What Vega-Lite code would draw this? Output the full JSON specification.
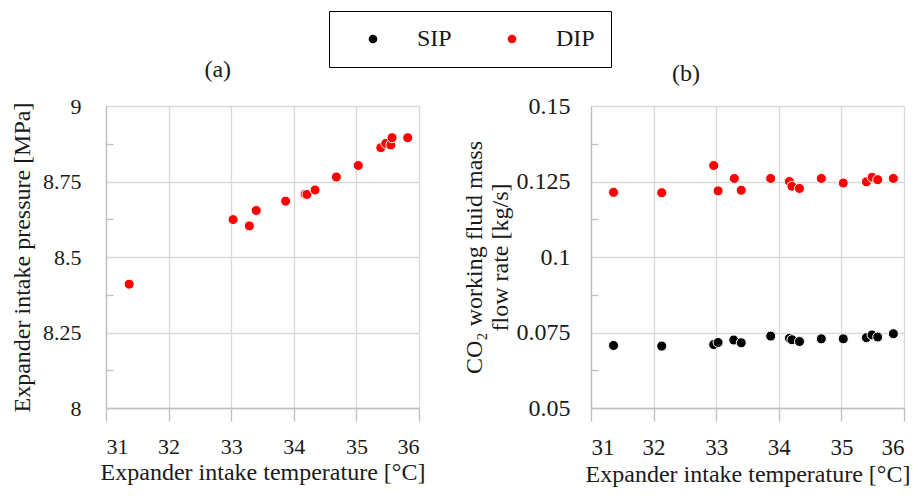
{
  "$schema": "https://vega.github.io/schema/vega-lite/v6.json",
  "background": "white",
  "padding": {"left": 10, "top": 10, "right": 0, "bottom": 3},
  "spacing": 37,
  "config": {
    "font": "Liberation Serif",
    "view": {"stroke": null},
    "style": {"guide-label": {"font": "Liberation Serif"}, "guide-title": {"font": "Liberation Serif"}},
    "axis": {
      "labelFont": "Liberation Serif",
      "titleFont": "Liberation Serif",
      "labelColor": "#1a1a1a",
      "titleColor": "#1a1a1a",
      "titleFontWeight": "normal",
      "gridColor": "#d9d9d9",
      "gridWidth": 1.3,
      "domainColor": "#bfbfbf",
      "domainWidth": 1.3,
      "tickColor": "#bfbfbf",
      "tickWidth": 1.3
    },
    "title": {"font": "Liberation Serif", "fontWeight": "normal", "fontSize": 24, "color": "#1a1a1a"}
  },
  "datasets": {
    "pressure": [
      {"series": "DIP", "T": 31.37, "P": 8.410},
      {"series": "DIP", "T": 33.03, "P": 8.624},
      {"series": "DIP", "T": 33.29, "P": 8.603},
      {"series": "DIP", "T": 33.40, "P": 8.654},
      {"series": "DIP", "T": 33.87, "P": 8.685},
      {"series": "DIP", "T": 34.18, "P": 8.708},
      {"series": "DIP", "T": 34.21, "P": 8.707},
      {"series": "DIP", "T": 34.34, "P": 8.722},
      {"series": "DIP", "T": 34.68, "P": 8.765},
      {"series": "DIP", "T": 35.03, "P": 8.803},
      {"series": "DIP", "T": 35.39, "P": 8.862},
      {"series": "DIP", "T": 35.47, "P": 8.876},
      {"series": "DIP", "T": 35.55, "P": 8.871},
      {"series": "DIP", "T": 35.57, "P": 8.895},
      {"series": "DIP", "T": 35.82, "P": 8.895}
    ],
    "flow": [
      {"series": "SIP", "T": 31.36, "m": 0.0707},
      {"series": "SIP", "T": 32.13, "m": 0.0705},
      {"series": "SIP", "T": 32.96, "m": 0.0710},
      {"series": "SIP", "T": 33.03, "m": 0.0717},
      {"series": "SIP", "T": 33.28, "m": 0.0725},
      {"series": "SIP", "T": 33.40, "m": 0.0716},
      {"series": "SIP", "T": 33.87, "m": 0.0738},
      {"series": "SIP", "T": 34.17, "m": 0.0731},
      {"series": "SIP", "T": 34.21, "m": 0.0726},
      {"series": "SIP", "T": 34.33, "m": 0.0720},
      {"series": "SIP", "T": 34.68, "m": 0.0729},
      {"series": "SIP", "T": 35.03, "m": 0.0729},
      {"series": "SIP", "T": 35.40, "m": 0.0733},
      {"series": "SIP", "T": 35.49, "m": 0.0742},
      {"series": "SIP", "T": 35.58, "m": 0.0735},
      {"series": "SIP", "T": 35.83, "m": 0.0746},
      {"series": "DIP", "T": 31.36, "m": 0.1214},
      {"series": "DIP", "T": 32.13, "m": 0.1213},
      {"series": "DIP", "T": 32.96, "m": 0.1303},
      {"series": "DIP", "T": 33.03, "m": 0.1219},
      {"series": "DIP", "T": 33.29, "m": 0.1260},
      {"series": "DIP", "T": 33.40, "m": 0.1221},
      {"series": "DIP", "T": 33.87, "m": 0.1260},
      {"series": "DIP", "T": 34.17, "m": 0.1250},
      {"series": "DIP", "T": 34.21, "m": 0.1234},
      {"series": "DIP", "T": 34.33, "m": 0.1227},
      {"series": "DIP", "T": 34.68, "m": 0.1260},
      {"series": "DIP", "T": 35.03, "m": 0.1245},
      {"series": "DIP", "T": 35.40, "m": 0.1249},
      {"series": "DIP", "T": 35.49, "m": 0.1264},
      {"series": "DIP", "T": 35.58, "m": 0.1256},
      {"series": "DIP", "T": 35.83, "m": 0.1260}
    ]
  },
  "hconcat": [
    {
      "width": 313,
      "height": 302,
      "title": {"text": "(a)", "anchor": "middle", "frame": "bounds", "offset": 13},
      "data": {"name": "pressure"},
      "mark": {"type": "point", "filled": true, "size": 100, "stroke": "white", "strokeWidth": 1, "opacity": 1},
      "encoding": {
        "x": {
          "field": "T", "type": "quantitative",
          "scale": {"domain": [31, 36], "nice": false, "zero": false},
          "axis": {"values": [31, 32, 33, 34, 35, 36], "format": "d", "title": "Expander intake temperature [°C]", "labelFont": "Liberation Serif", "titleFont": "Liberation Serif", "labelFontSize": 22, "titleFontSize": 24, "tickSize": 13, "labelPadding": 15, "titlePadding": 3}
        },
        "y": {
          "field": "P", "type": "quantitative",
          "scale": {"domain": [8, 9], "nice": false, "zero": false},
          "axis": {
            "values": [8, 8.125, 8.25, 8.375, 8.5, 8.625, 8.75, 8.875, 9],
            "labelExpr": "abs(datum.value*4 - round(datum.value*4)) < 0.001 ? toString(datum.value) : ''",
            "gridOpacity": {"condition": {"test": "abs(datum.value*4 - round(datum.value*4)) < 0.001", "value": 1}, "value": 0},
            "tickOpacity": {"condition": {"test": "abs(datum.value*4 - round(datum.value*4)) < 0.001", "value": 0}, "value": 1},
            "tickSize": -7,
            "title": "Expander intake pressure [MPa]",
            "labelFont": "Liberation Serif", "titleFont": "Liberation Serif",
            "labelFontSize": 22, "titleFontSize": 24, "labelPadding": 32, "titlePadding": 8
          }
        },
        "color": {
          "field": "series", "type": "nominal",
          "scale": {"domain": ["SIP", "DIP"], "range": ["#000000", "#ff0000"]},
          "legend": {
            "orient": "none", "legendX": 223, "legendY": -95,
            "direction": "horizontal", "columns": 2, "title": null,
            "strokeColor": "#000000", "padding": 16, "symbolOffset": 16,
            "labelOffset": 32, "columnPadding": 32, "symbolSize": 75,
            "symbolType": "circle", "symbolStrokeWidth": 0,
            "labelFontSize": 24, "labelFont": "Liberation Serif", "labelColor": "#1a1a1a"
          }
        }
      }
    },
    {
      "width": 313,
      "height": 302,
      "title": {"text": "(b)", "anchor": "middle", "frame": "bounds", "offset": 8},
      "data": {"name": "flow"},
      "mark": {"type": "point", "filled": true, "size": 100, "stroke": "white", "strokeWidth": 1, "opacity": 1},
      "encoding": {
        "x": {
          "field": "T", "type": "quantitative",
          "scale": {"domain": [31, 36], "nice": false, "zero": false},
          "axis": {"values": [31, 32, 33, 34, 35, 36], "format": "d", "title": "Expander intake temperature [°C]", "labelFont": "Liberation Serif", "titleFont": "Liberation Serif", "labelFontSize": 23, "titleFontSize": 24, "tickSize": 13, "labelPadding": 15, "titlePadding": 3}
        },
        "y": {
          "field": "m", "type": "quantitative",
          "scale": {"domain": [0.05, 0.15], "nice": false, "zero": false},
          "axis": {
            "values": [0.05, 0.0625, 0.075, 0.0875, 0.1, 0.1125, 0.125, 0.1375, 0.15],
            "labelExpr": "abs(datum.value*40 - round(datum.value*40)) < 0.001 ? toString(round(datum.value*1000)/1000) : ''",
            "gridOpacity": {"condition": {"test": "abs(datum.value*40 - round(datum.value*40)) < 0.001", "value": 1}, "value": 0},
            "tickOpacity": {"condition": {"test": "abs(datum.value*40 - round(datum.value*40)) < 0.001", "value": 0}, "value": 1},
            "tickSize": -7,
            "title": ["CO₂ working fluid mass", "flow rate [kg/s]"],
            "labelFont": "Liberation Serif", "titleFont": "Liberation Serif",
            "labelFontSize": 24, "titleFontSize": 24, "labelPadding": 28, "titlePadding": 4
          }
        },
        "color": {
          "field": "series", "type": "nominal",
          "scale": {"domain": ["SIP", "DIP"], "range": ["#000000", "#ff0000"]}
        }
      }
    }
  ]
}
